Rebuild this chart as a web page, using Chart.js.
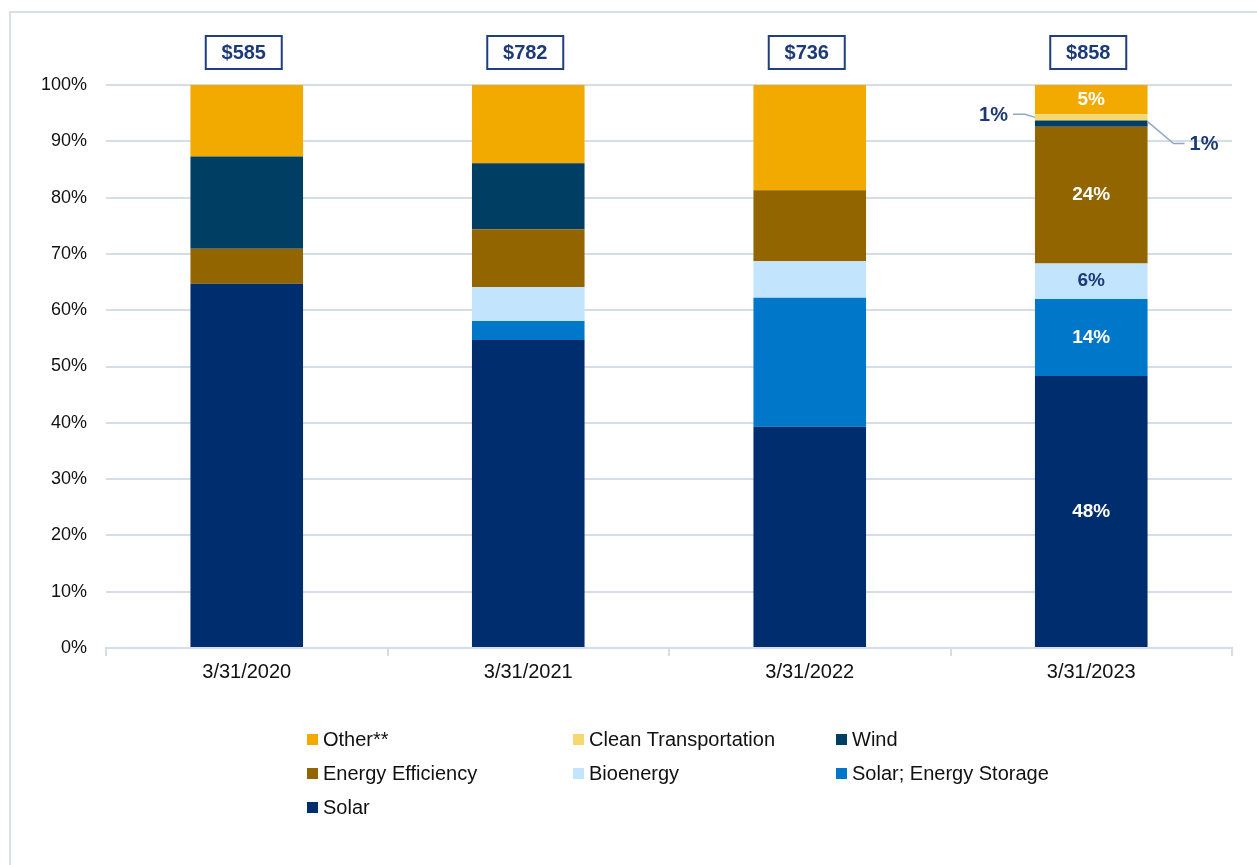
<!DOCTYPE html>
<html>
<head>
<meta charset="utf-8">
<script src="https://cdn.jsdelivr.net/npm/chart.js@4"></script>
<style>
  html, body { margin: 0; padding: 0; background: #fff; }
  canvas { display: block; }
</style>
</head>
<body>
<canvas id="mixChart" width="1257" height="865"></canvas>
<script>
// categories and totals
const dates = ['3/31/2020', '3/31/2021', '3/31/2022', '3/31/2023'];
const totals = ['$585', '$782', '$736', '$858'];

// share of each category, percent
const solar      = [64.7, 54.7, 39.3, 48.3];
const solarStore = [0,    3.4,  22.9, 13.7];
const bioenergy  = [0,    6.0,  6.5,  6.3];
const efficiency = [6.2,  10.3, 12.6, 24.3];
const wind       = [16.4, 11.7, 0,    1.1];
const cleanTrans = [0,    0,    0,    1.1];
const other      = [12.7, 13.9, 18.7, 5.2];

// labels shown on the last bar only
const lastLabels = ['48%', '14%', '6%', '24%', '1%', '1%', '5%'];

const yTicks = [0, 10, 20, 30, 40, 50, 60, 70, 80, 90, 100];

const navy = '#1C3A78';
const gridColor = '#D5DDE9';
const font = "'Liberation Sans', Arial, sans-serif";

const series = [
  { label: 'Solar', data: solar, color: '#002D6E', text: '#fff' },
  { label: 'Solar; Energy Storage', data: solarStore, color: '#0077C8', text: '#fff' },
  { label: 'Bioenergy', data: bioenergy, color: '#C2E4FC', text: navy },
  { label: 'Energy Efficiency', data: efficiency, color: '#926500', text: '#fff' },
  { label: 'Wind', data: wind, color: '#003F63', text: 'right' },
  { label: 'Clean Transportation', data: cleanTrans, color: '#F5D870', text: 'left' },
  { label: 'Other**', data: other, color: '#F2AA00', text: '#fff' }
];

// legend order as in the picture
const legendOrder = ['Other**', 'Clean Transportation', 'Wind',
                     'Energy Efficiency', 'Bioenergy', 'Solar; Energy Storage', 'Solar'];

const extras = {
  id: 'extras',
  beforeDraw(chart) {
    const ctx = chart.ctx;
    ctx.save();
    ctx.strokeStyle = '#D6DFEA';
    ctx.lineWidth = 2;
    ctx.beginPath();
    ctx.moveTo(10, chart.height);
    ctx.lineTo(10, 12);
    ctx.lineTo(chart.width, 12);
    ctx.stroke();
    ctx.restore();
  },
  afterDraw(chart) {
    const ctx = chart.ctx;
    const x = chart.scales.x;
    ctx.save();

    // total boxes above bars
    totals.forEach((t, i) => {
      const cx = x.getPixelForValue(i) - 3;
      ctx.strokeStyle = '#1F3F7F';
      ctx.lineWidth = 2;
      ctx.strokeRect(cx - 38, 36, 76, 33);
      ctx.fillStyle = navy;
      ctx.font = 'bold 20px ' + font;
      ctx.textAlign = 'center';
      ctx.textBaseline = 'middle';
      ctx.fillText(t, cx, 53);
    });

    // data labels on the last bar
    const idx = dates.length - 1;
    series.forEach((s, d) => {
      const bar = chart.getDatasetMeta(d).data[idx];
      const cy = (bar.y + bar.base) / 2;
      const half = bar.width / 2;
      ctx.textBaseline = 'middle';
      if (s.text === 'left') {
        ctx.font = 'bold 20px ' + font;
        ctx.strokeStyle = '#8FA8C6';
        ctx.lineWidth = 1.5;
        ctx.beginPath();
        ctx.moveTo(bar.x - half - 22, cy - 3);
        ctx.lineTo(bar.x - half - 10, cy - 3);
        ctx.lineTo(bar.x - half, cy);
        ctx.stroke();
        ctx.fillStyle = navy;
        ctx.textAlign = 'right';
        ctx.fillText(lastLabels[d], bar.x - half - 27, cy - 2);
      } else if (s.text === 'right') {
        ctx.font = 'bold 20px ' + font;
        ctx.strokeStyle = '#8FA8C6';
        ctx.lineWidth = 1.5;
        ctx.beginPath();
        ctx.moveTo(bar.x + half, cy - 2);
        ctx.lineTo(bar.x + half + 26, cy + 20);
        ctx.lineTo(bar.x + half + 37, cy + 20);
        ctx.stroke();
        ctx.fillStyle = navy;
        ctx.textAlign = 'left';
        ctx.fillText(lastLabels[d], bar.x + half + 42, cy + 21);
      } else {
        ctx.font = 'bold 19px ' + font;
        ctx.fillStyle = s.text;
        ctx.textAlign = 'center';
        ctx.fillText(lastLabels[d], bar.x, cy);
      }
    });

    // legend, three columns
    const cols = [307, 573, 836];
    const rows = [739, 773, 807];
    ctx.font = '20px ' + font;
    ctx.textAlign = 'left';
    ctx.textBaseline = 'middle';
    legendOrder.forEach((name, k) => {
      const s = series.find(v => v.label === name);
      const lx = cols[k % 3];
      const ly = rows[Math.floor(k / 3)];
      ctx.fillStyle = s.color;
      ctx.fillRect(lx, ly - 5, 11, 11);
      ctx.fillStyle = '#111';
      ctx.fillText(name, lx + 16, ly + 1);
    });
    ctx.restore();
  }
};

const ctx = document.getElementById('mixChart').getContext('2d');

new Chart(ctx, {
  type: 'bar',
  data: {
    labels: dates,
    datasets: series.map(s => ({
      label: s.label,
      data: s.data,
      backgroundColor: s.color,
      borderWidth: 0,
      barPercentage: 0.4,
      categoryPercentage: 1.0
    }))
  },
  options: {
    responsive: false,
    animation: false,
    layout: { padding: { left: 0, top: 85, right: 25, bottom: 177 } },
    plugins: {
      legend: { display: false },
      tooltip: { enabled: false }
    },
    scales: {
      x: {
        stacked: true,
        afterFit(scale) { scale.height = 40; },
        grid: {
          offset: true,
          drawOnChartArea: false,
          drawTicks: true,
          tickLength: 8,
          color: gridColor,
          lineWidth: 2
        },
        border: { color: gridColor, width: 2 },
        ticks: { color: '#111', font: { family: font, size: 20 }, padding: 4 }
      },
      y: {
        stacked: true,
        min: 0,
        max: 100,
        afterFit(scale) { scale.width = 106; },
        afterBuildTicks(scale) { scale.ticks = yTicks.map(v => ({ value: v })); },
        grid: { color: gridColor, lineWidth: 2, drawTicks: false },
        border: { display: false },
        ticks: {
          color: '#111',
          font: { family: font, size: 18 },
          padding: 19,
          callback: v => v + '%'
        }
      }
    }
  },
  plugins: [extras]
});
</script>
</body>
</html>
